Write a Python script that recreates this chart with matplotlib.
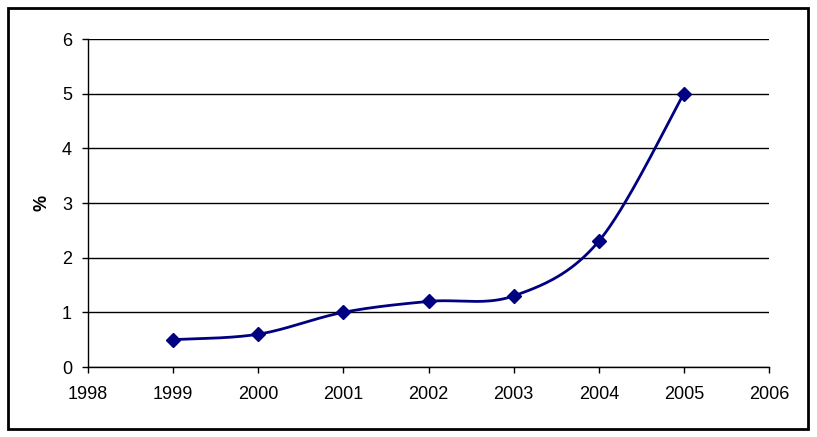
import numpy as np
import matplotlib
matplotlib.use('Agg')
import matplotlib.pyplot as plt
from matplotlib.patches import Rectangle

years = [1999, 2000, 2001, 2002, 2003, 2004, 2005]
percent = [0.5, 0.6, 1.0, 1.2, 1.3, 2.3, 5.0]
x_ticks = list(range(1998, 2007))
y_ticks = list(range(0, 7))

line_col = '#000080'


def smooth_curve(xs, ys, n=40):
	# excel style smoothed line: bezier through points, catmull-rom control points
	px = np.array(xs, dtype=float)
	py = np.array(ys, dtype=float)
	out_x, out_y = [], []
	t = np.linspace(0, 1, n)
	for i in range(len(px) - 1):
		p0 = i - 1 if i > 0 else i
		p3 = i + 2 if i + 2 < len(px) else i + 1
		c1x = px[i] + (px[i + 1] - px[p0]) / 6
		c1y = py[i] + (py[i + 1] - py[p0]) / 6
		c2x = px[i + 1] - (px[p3] - px[i]) / 6
		c2y = py[i + 1] - (py[p3] - py[i]) / 6
		bx = (1 - t)**3 * px[i] + 3 * (1 - t)**2 * t * c1x + 3 * (1 - t) * t**2 * c2x + t**3 * px[i + 1]
		by = (1 - t)**3 * py[i] + 3 * (1 - t)**2 * t * c1y + 3 * (1 - t) * t**2 * c2y + t**3 * py[i + 1]
		out_x.extend(bx)
		out_y.extend(by)
	return out_x, out_y


plt.rcParams['font.family'] = ['Liberation Sans', 'DejaVu Sans']

fig = plt.figure(figsize=(8.17, 4.37), dpi=100)
ax = fig.add_axes([88 / 817, 70 / 437, 681 / 817, 328 / 437])

sx, sy = smooth_curve(years, percent)
ax.plot(sx, sy, color=line_col, lw=2, zorder=3, solid_capstyle='round')
ax.plot(years, percent, linestyle='none', marker='D', ms=7, color=line_col, zorder=4)

ax.set_xlim(1998, 2006)
ax.set_ylim(0, 6)
ax.set_xticks(x_ticks)
ax.set_yticks(y_ticks)
ax.tick_params(labelsize=13, direction='out', length=4.5, width=1, colors='black')
ax.tick_params(axis='y', pad=7)
ax.tick_params(axis='x', pad=9)
ax.yaxis.grid(True, color='black', lw=1)
ax.set_axisbelow(True)
for s in ['top', 'right']:
	ax.spines[s].set_visible(False)
for s in ['left', 'bottom']:
	ax.spines[s].set_linewidth(1)
ax.set_ylabel('%', fontsize=13, fontweight='bold', labelpad=8)

fig.patches.append(Rectangle((8 / 817, 8 / 437), 800 / 817, 421 / 437, transform=fig.transFigure,
	fill=False, edgecolor='black', lw=2))

fig.savefig('out.png', dpi=100)
